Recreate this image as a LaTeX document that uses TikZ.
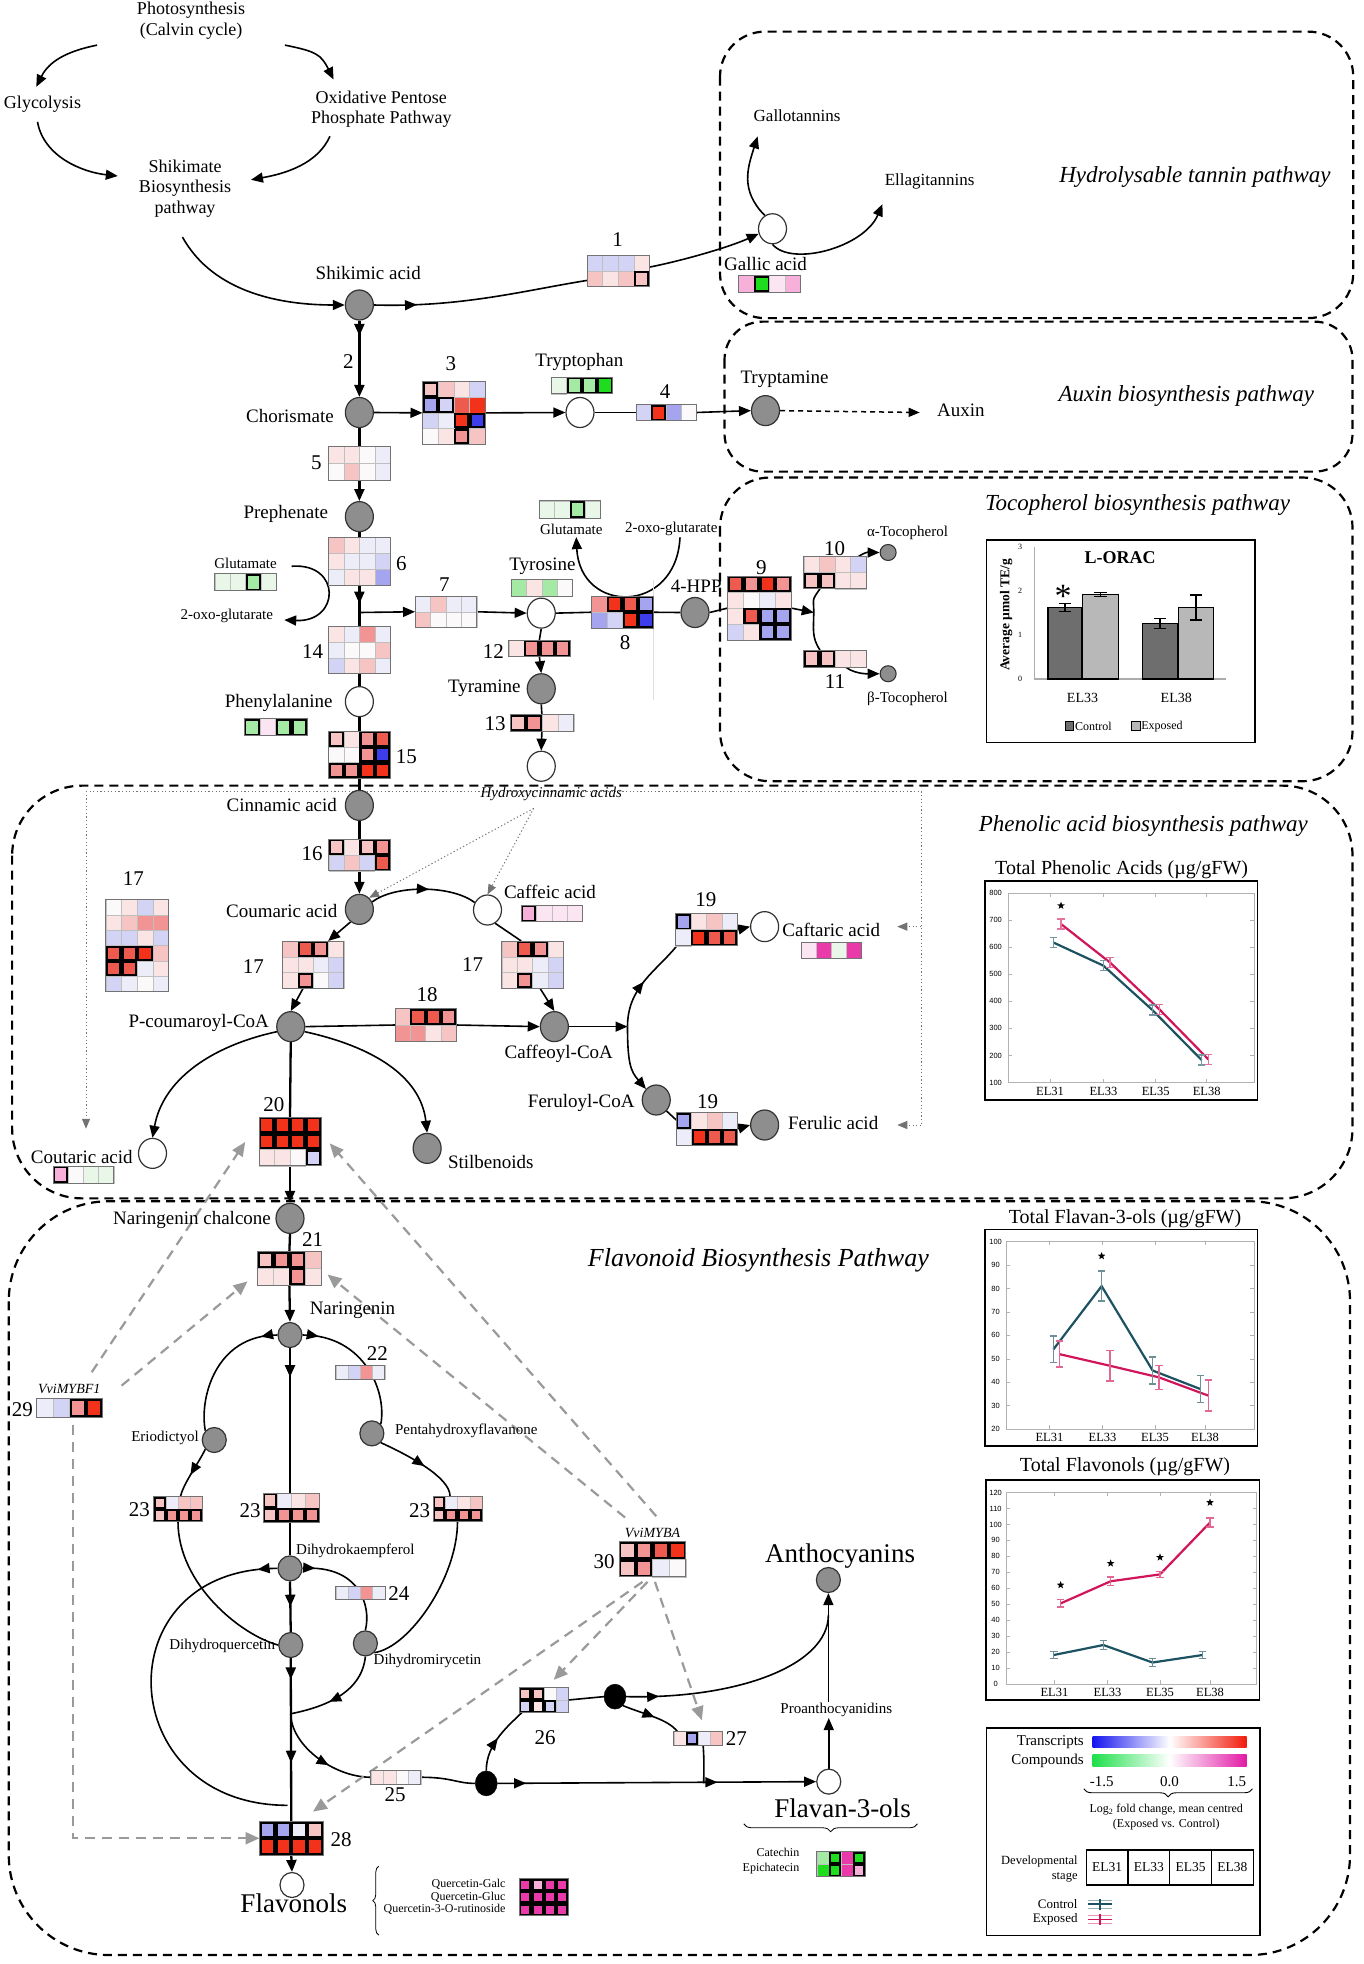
\documentclass[tikz,border=0pt]{standalone}
\usepackage{fontspec}
\setmainfont{Liberation Serif}
\newfontfamily\chsans{Liberation Sans}
\usetikzlibrary{shapes.geometric,arrows.meta,decorations.markings,decorations.pathreplacing,calc}
\pgfdeclarelayer{bg}
\pgfsetlayers{bg,main}
\definecolor{r1}{HTML}{FBE4E4}\definecolor{r2}{HTML}{F7C4C4}\definecolor{r3}{HTML}{F29494}
\definecolor{r4}{HTML}{EE5B4E}\definecolor{r5}{HTML}{F2321A}
\definecolor{b1}{HTML}{EDEDF9}\definecolor{b2}{HTML}{D3D3F5}\definecolor{b3}{HTML}{A5A5EF}\definecolor{b4}{HTML}{3D3DEB}
\definecolor{g1}{HTML}{E9F7E9}\definecolor{g2}{HTML}{A4EAA4}\definecolor{g3}{HTML}{1FDC1F}
\definecolor{m1}{HTML}{FCE5F2}\definecolor{m2}{HTML}{F6B0DA}\definecolor{m3}{HTML}{EA3AAA}
\definecolor{w}{HTML}{FBF9FA}
\definecolor{metgray}{HTML}{8E8E8E}
\definecolor{ctl}{HTML}{1D5262}\definecolor{expc}{HTML}{D1155A}
\definecolor{tblue}{HTML}{1414F0}\definecolor{tred}{HTML}{F21A0A}
\definecolor{cgreen}{HTML}{1EE04A}\definecolor{cmag}{HTML}{E21AA6}
\definecolor{regc}{HTML}{9A9A9A}
\definecolor{barC}{HTML}{6E6E6E}\definecolor{barE}{HTML}{B8B8B8}
\newcommand\thk[2]{\colorlet{#1}{#2}\expandafter\def\csname thk@#1\endcsname{}}
\thk{R1}{r1}\thk{R2}{r2}\thk{R3}{r3}\thk{R4}{r4}\thk{R5}{r5}
\thk{B1}{b1}\thk{B2}{b2}\thk{B3}{b3}\thk{B4}{b4}
\thk{G1}{g1}\thk{G2}{g2}\thk{G3}{g3}\thk{M1}{m1}\thk{M2}{m2}\thk{M3}{m3}
\newcommand\hmap[8]{%
  \node[inner sep=0pt, outer sep=0pt, minimum width={#4*#6*1.25pt}, minimum height={#5*#7*1.25pt}] (#1) at (#2,#3) {};
  \foreach \cc [count=\ii from 0] in {#8}{%
    \pgfmathtruncatemacro\ci{mod(\ii,#4)}%
    \pgfmathtruncatemacro\ri{floor(\ii/#4)}%
    \ifcsname thk@\cc\endcsname
      \fill[black] ($(#1.north west)+(\ci*#6,\ri*#7)$) rectangle +(#6,#7);
      \fill[\cc] ($(#1.north west)+(\ci*#6+1.7,\ri*#7+1.7)$) rectangle +(#6-3.4,#7-3.4);
    \else
      \fill[\cc] ($(#1.north west)+(\ci*#6,\ri*#7)$) rectangle +(#6,#7);
      \draw[black!25, line width=0.4pt] ($(#1.north west)+(\ci*#6,\ri*#7)$) rectangle +(#6,#7);
    \fi
  }%
  \draw[black!55, line width=0.9pt] (#1.north west) rectangle (#1.south east);
}
\newcommand\ebar[5]{\draw[#4, line width=1.3pt] (#1,#2-#3) -- (#1,#2+#3) (#1-#5,#2-#3) -- (#1+#5,#2-#3) (#1-#5,#2+#3) -- (#1+#5,#2+#3);}
\tikzset{
  gm/.style={ellipse, draw=black!80, line width=1.2pt, fill=metgray, minimum width=28pt, minimum height=30pt, inner sep=0pt},
  wm/.style={gm, fill=white},
  gs/.style={gm, minimum width=24pt, minimum height=25pt},
  ws/.style={gs, fill=white},
  tm/.style={circle, draw=black!80, line width=1.1pt, fill=metgray, minimum size=16pt, inner sep=0pt},
  bm/.style={ellipse, fill=black, draw=black, minimum width=22pt, minimum height=25pt, inner sep=0pt},
  lab/.style={font=\fontsize{19}{22}\selectfont, inner sep=1pt},
  tlab/.style={font=\fontsize{18}{20.5}\selectfont, align=center, inner sep=1pt},
  slab/.style={font=\fontsize{15}{17}\selectfont, inner sep=1pt},
  numl/.style={font=\fontsize{21}{23}\selectfont, inner sep=0.5pt},
  ttl/.style={font=\fontsize{23}{26}\itshape\selectfont, inner sep=1pt},
  bigl/.style={font=\fontsize{27}{30}\selectfont, inner sep=1pt},
  xsm/.style={font=\fontsize{12}{13}\selectfont, inner sep=0.5pt},
  tkl/.style={font=\chsans\fontsize{7.5}{8}\selectfont, inner sep=0.5pt},
  elab/.style={font=\fontsize{12.5}{13}\selectfont, inner sep=0.5pt},
  ln/.style={line width=1.6pt},
  vln/.style={line width=2.3pt},
  ar/.style={-{Triangle[length=12pt,width=10pt]}},
  dashar/.style={line width=1.5pt, dash pattern=on 5pt off 4pt, -{Triangle[length=11pt,width=9pt]}},
  dotln/.style={black!55, line width=1pt, dash pattern=on 1.2pt off 2.4pt},
  dotar/.style={dotln, -{Triangle[length=10pt,width=8pt]}},
  reg/.style={regc, line width=2.2pt, dash pattern=on 10pt off 7pt, -{Triangle[length=14pt,width=12pt]}},
  sect/.style={line width=2.2pt, dash pattern=on 9pt off 6pt, rounded corners=#1},
  midarr/.style={postaction={decorate, decoration={markings, mark=at position #1 with {\arrow{Triangle[length=12pt,width=10pt]}}}}},
  midarrs/.style 2 args={postaction={decorate, decoration={markings, mark=at position #1 with {\arrow{Triangle[length=12pt,width=10pt]}}, mark=at position #2 with {\arrow{Triangle[length=12pt,width=10pt]}}}}},
  cstar/.style={star, star points=5, star point ratio=2.4, fill=black, inner sep=0pt, minimum size=8pt}
}
\begin{document}
\begin{tikzpicture}[x=1.25pt,y=-1.25pt]
\useasboundingbox (0,0) rectangle (1090.4,1571.2);
\begin{pgfonlayer}{bg}
\fill[white] (0,0) rectangle (1090.4,1571.2);
\end{pgfonlayer}
% ---------------- text labels ----------------
\node[tlab] (photo) at (152.8,16.4) {Photosynthesis\\(Calvin cycle)};
\node[tlab] (glyc) at (34,83) {Glycolysis};
\node[tlab] (oppp) at (305,87.3) {Oxidative Pentose\\Phosphate Pathway};
\node[tlab] (shikp) at (148,150.8) {Shikimate\\Biosynthesis\\pathway};
\node[lab] (shikl) at (294.6,218.7) {Shikimic acid};
\node[font=\fontsize{17}{19}\selectfont] (gallo) at (637.7,92.5) {Gallotannins};
\node[font=\fontsize{17}{19}\selectfont] (ellag) at (743.7,145.3) {Ellagitannins};
\node[lab] (gallicl) at (612.4,211.5) {Gallic acid};
\node[ttl] (hydt) at (956,141.9) {Hydrolysable tannin pathway};
\node[lab] (chorl) at (232,333) {Chorismate};
\node[lab] (trpl) at (463.5,289.3) {Tryptophan};
\node[lab] (trpml) at (627.6,303.2) {Tryptamine};
\node[lab] (auxl) at (768.7,328) {Auxin};
\node[ttl] (auxt) at (949,317) {Auxin biosynthesis pathway};
\node[lab] (prephl) at (228.6,411.5) {Prephenate};
\node[slab] (glu1) at (196.4,451) {Glutamate};
\node[slab] (oxo1) at (181.4,493) {2-oxo-glutarate};
\node[lab] (tyrl) at (434,453) {Tyrosine};
\node[slab] (glu2) at (457,423.5) {Glutamate};
\node[slab] (oxo2) at (537,423.5) {2-oxo-glutarate};
\node[lab] (hppl) at (557,469) {4-HPP};
\node[slab] (atocl) at (726,426.7) {α-Tocopherol};
\node[slab] (btocl) at (726,558.7) {β-Tocopherol};
\node[ttl] (toct) at (910,404) {Tocopherol biosynthesis pathway};
\node[lab] (tyraml) at (387.5,551) {Tyramine};
\node[lab] (phel) at (223,562.7) {Phenylalanine};
\node[ttl] (phent) at (914.7,660.8) {Phenolic acid biosynthesis pathway};
\node[lab] (cinnl) at (225.4,644.3) {Cinnamic acid};
\node[lab] (couml) at (225.4,728.8) {Coumaric acid};
\node[font=\fontsize{15}{17}\itshape\selectfont, inner sep=1pt] (hca) at (441,635.2) {Hydroxycinnamic acids};
\node[lab] (caffl) at (440,713.3) {Caffeic acid};
\node[lab] (pcoal) at (159,818) {P-coumaroyl-CoA};
\node[lab] (cfcoal) at (447,842.7) {Caffeoyl-CoA};
\node[lab] (caftl) at (665,744) {Caftaric acid};
\node[lab] (frcoal) at (465,882) {Feruloyl-CoA};
\node[lab] (ferull) at (666.5,898.7) {Ferulic acid};
\node[lab] (coutl) at (65.4,925.3) {Coutaric acid};
\node[lab] (stilbl) at (392.6,929.3) {Stilbenoids};
\node[font=\fontsize{26}{29}\itshape\selectfont] (flavt) at (606.7,1008.5) {Flavonoid Biosynthesis Pathway};
\node[lab] (nchall) at (153.6,976) {Naringenin chalcone};
\node[lab] (narl) at (282,1048) {Naringenin};
\node[slab] (eriol) at (132,1150.7) {Eriodictyol};
\node[slab] (pental) at (373,1144.5) {Pentahydroxyflavanone};
\node[slab, anchor=west] (dhkl) at (236,1240.5) {Dihydrokaempferol};
\node[slab, anchor=east] (dhql) at (221,1316.8) {Dihydroquercetin};
\node[slab, anchor=west] (dhml) at (298,1328.5) {Dihydromirycetin};
\node[font=\fontsize{14}{16}\itshape\selectfont, inner sep=1pt] (mybf1) at (55.4,1111.5) {VviMYBF1};
\node[font=\fontsize{14}{16}\itshape\selectfont, inner sep=1pt] (mybal) at (522,1226.7) {VviMYBA};
\node[bigl] (anthol) at (672,1244.8) {Anthocyanins};
\node[slab] (proal) at (669,1368) {Proanthocyanidins};
\node[bigl] (flav3l) at (674,1446.7) {Flavan-3-ols};
\node[xsm, anchor=east] (cat1) at (640,1481.9) {Catechin};
\node[xsm, anchor=east] (cat2) at (640,1494.7) {Epichatecin};
\node[bigl] (flavol) at (235,1522.7) {Flavonols};
\node[xsm, anchor=east] (q1) at (405,1507.7) {Quercetin-Galc};
\node[xsm, anchor=east] (q2) at (405,1517.6) {Quercetin-Gluc};
\node[xsm, anchor=east] (q3) at (405,1527.5) {Quercetin-3-O-rutinoside};
% numbers
\foreach \nm/\xx/\yy/\tx in {n1/494/191.5/1, n2/278.6/289/2, n3/360.7/290.7/3, n4/532/313/4, n5/253/370.5/5,
  n6/321/451/6, n7/355.4/468/7, n8/500/514/8, n9/609/454/9, n10/667.7/438.7/10, n11/668/545/11,
  n12/394.6/521/12, n13/396/579/13, n14/250/521.3/14, n15/325/605/15, n16/249.6/683/16,
  n17a/202.6/773.3/17, n17b/378/771.5/17, n17c/106.6/703.2/17, n18/341.7/796/18, n19a/564.7/720/19,
  n19b/566/881/19, n20/219/884/20, n21/250/991.5/21, n22/301.8/1083.2/22, n23a/111.4/1208/23,
  n23b/200/1208.5/23, n23c/335.7/1208.5/23, n24/319/1275/24, n25/316/1436/25, n26/436/1389.9/26,
  n27/589/1390.7/27, n28/272.9/1472/28, n29/17.9/1128/29, n30/483.2/1249.3/30}
  {\node[numl] (\nm) at (\xx,\yy) {\tx};}
% ---------------- metabolite nodes ----------------
\node[gm] (shik) at (287.5,244) {};
\node[gm] (chor) at (287.5,330) {};
\node[wm] (trp) at (464,330) {};
\node[gm] (trpm) at (612.4,328.5) {};
\node[gm] (preph) at (287.5,413.3) {};
\node[wm] (tyr) at (433,490.5) {};
\node[gm] (hpp) at (556,490) {};
\node[gm] (tyram) at (433,551) {};
\node[wm] (tyrx) at (433,613) {};
\node[wm] (phe) at (287.5,561.3) {};
\node[wm] (gallic) at (618,183) {};
\node[tm] (atoc) at (710.5,442) {};
\node[tm] (btoc) at (710.5,539) {};
\node[gm] (cinn) at (287.5,644.3) {};
\node[gm] (coum) at (287.5,727.5) {};
\node[wm] (caff) at (390,728) {};
\node[gm] (pcoa) at (232.6,821.3) {};
\node[gm] (cfcoa) at (443.5,821.3) {};
\node[gm] (frcoa) at (525,880) {};
\node[wm] (caft) at (611.7,741.3) {};
\node[gm] (ferul) at (611.7,900) {};
\node[wm] (cout) at (122,922.7) {};
\node[gm] (stilb) at (341.7,918.7) {};
\node[gm] (nchal) at (232,974.7) {};
\node[gs] (nar) at (232,1068) {};
\node[gs] (erio) at (171.4,1152) {};
\node[gs] (penta) at (297.5,1146.7) {};
\node[gs] (dhk) at (232,1254.7) {};
\node[gs] (dhq) at (232.6,1316) {};
\node[gs] (dhm) at (292.3,1314.7) {};
\node[bm] (blk1) at (389,1426.7) {};
\node[bm] (blk2) at (492,1357.3) {};
\node[gs] (antho) at (662.7,1264) {};
\node[ws] (flav3) at (663,1425.3) {};
\node[ws] (flavo) at (233.6,1508) {};
% ---------------- heat maps ----------------
\hmap{box1}{494.6}{216.7}{4}{2}{12.5}{12.65}{b2,b2,b2,r1,r2,r1,r2,R2}
\hmap{galst}{615.7}{227.2}{4}{1}{12.4}{13.4}{m2,G3,m1,m2}
\hmap{box3}{363}{330.3}{4}{4}{12.5}{12.5}{R2,r2,r1,b2,B3,B2,r4,r5,b2,b1,R5,B4,w,r1,R3,r2}
\hmap{trpst}{465.5}{308.5}{4}{1}{12.3}{13.3}{g1,G2,G2,G3}
\hmap{box4}{533}{330}{4}{1}{12}{13}{b2,R5,b3,w}
\hmap{box5}{287.5}{370.5}{4}{2}{12.4}{13.5}{r1,r1,w,b1,w,r2,w,b1}
\hmap{box6}{287.5}{449}{4}{3}{12.4}{12.7}{r2,r1,b1,b1,r1,b1,b1,b2,b1,r1,r1,b3}
\hmap{glu1st}{196.5}{465.6}{4}{1}{12.3}{13.8}{g1,g1,G2,g1}
\hmap{box7}{356.7}{489.4}{4}{2}{12.35}{12.55}{b1,r2,b1,b1,r2,w,w,w}
\hmap{tyrst}{433.5}{470.4}{4}{1}{12.3}{13.8}{g2,r1,g2,w}
\hmap{box8}{498}{489.8}{4}{2}{12.5}{12.9}{r3,R5,R4,B3,b3,b2,R5,B4}
\hmap{glu2st}{456}{407.7}{4}{1}{12.25}{13.9}{g1,g1,G2,g1}
\hmap{box12}{431.5}{518.7}{4}{1}{12.25}{13.3}{r1,R3,R3,R3}
\hmap{box13}{433.5}{578.3}{4}{1}{12.75}{13.5}{R2,R3,r1,b1}
\hmap{box14}{287.5}{520}{4}{3}{12.4}{12.6}{r1,b1,r3,b1,b1,w,w,r2,b2,r1,r2,b1}
\hmap{phest}{220.5}{581.6}{4}{1}{12.6}{13.8}{G2,m1,G2,G2}
\hmap{box15}{287.5}{603.7}{4}{3}{12.4}{12.6}{R2,r1,R3,R4,w,w,R3,B4,R3,R3,R5,R5}
\hmap{box9}{607.5}{486.5}{4}{4}{12.75}{12.75}{R4,R3,R5,R3,r1,w,b1,r1,r1,R4,B3,B3,b2,r1,B3,B3}
\hmap{box10}{668}{458}{4}{2}{12.5}{13}{r1,r2,r1,b2,R2,R2,r1,r1}
\hmap{box11}{668}{527}{4}{1}{12.5}{14}{R2,R2,r1,r1}
\hmap{box16}{287.5}{684}{4}{2}{12.25}{12.65}{R2,r1,R2,R3,b2,r2,b2,R4}
\hmap{box17L}{250.5}{771.7}{4}{3}{12.25}{12.6}{r2,R4,R3,r1,r1,r1,b1,b2,r1,R3,w,b2}
\hmap{box17R}{426}{771.7}{4}{3}{12.25}{12.6}{r2,R4,R3,r1,r1,r1,b1,b2,r1,R3,b1,b2}
\hmap{caffst}{441.4}{730.7}{4}{1}{12.3}{13.3}{M2,m1,m1,m1}
\hmap{box17S}{109.7}{756.4}{4}{6}{12.5}{12.3}{w,r1,b2,r1,r1,r2,r3,r3,b2,b2,r1,b2,R4,R4,R5,r2,R4,R4,b1,r1,b2,b1,w,b1}
\hmap{box18}{340.5}{820}{4}{2}{12.25}{13.3}{r2,R4,R4,R3,r3,r3,r1,r2}
\hmap{box19U}{565.2}{743.7}{4}{2}{12.4}{13}{B3,r1,r2,b1,b1,R5,R4,R4}
\hmap{box19L}{565.5}{903}{4}{2}{12.25}{13}{B3,r1,r2,b1,b1,R5,R4,R4}
\hmap{caftst}{665}{760.4}{4}{1}{12}{12.7}{m1,m3,g1,m3}
\hmap{coutst}{66.8}{939.9}{4}{1}{12.1}{13.7}{M2,w,g1,g1}
\hmap{box20}{232}{913.2}{4}{3}{12.4}{12.9}{R5,R5,R5,R5,R5,R5,R5,R5,r1,r1,w,B2}
\hmap{box21}{231.5}{1014.6}{4}{2}{12.75}{13.5}{R2,R3,R3,r2,r1,r1,R3,r1}
\hmap{box22}{288.2}{1097.8}{4}{1}{9.8}{10.7}{b1,b2,r3,b1}
\hmap{box23L}{142.4}{1207.3}{4}{2}{9.7}{10}{R2,b1,r2,r2,R2,R3,R3,R3}
\hmap{box23C}{233}{1206.3}{4}{2}{11.2}{11.7}{R2,b1,r1,r2,R2,R3,R3,R3}
\hmap{box23R}{366}{1207}{4}{2}{9.8}{10.25}{R2,b1,r1,r2,R2,R3,R3,R3}
\hmap{box24}{288.3}{1274.1}{4}{1}{9.85}{10.7}{b1,b2,r3,b1}
\hmap{box29}{55.6}{1126.3}{4}{1}{13.2}{15.2}{b1,b2,R3,R5}
\hmap{box30}{522}{1247.5}{4}{2}{13.3}{14}{R2,R3,R4,R5,R2,R3,b1,w}
\hmap{box25}{316.7}{1421.8}{4}{1}{10}{10.7}{r1,r1,w,b1}
\hmap{box26}{435}{1360}{4}{2}{9.8}{10.1}{R2,R2,w,b2,B2,R1,B2,b2}
\hmap{box27}{558.5}{1390.6}{4}{1}{9.75}{10.7}{r1,B3,b1,r2}
\hmap{box28}{233}{1470.6}{4}{2}{12.7}{13.35}{B3,B3,B1,R2,R5,R5,R5,R5}
\hmap{catst}{672.8}{1491.3}{4}{2}{9.7}{10}{g2,G3,m3,G3,g3,G3,m3,M2}
\hmap{querst}{435}{1517.7}{4}{3}{9.8}{10}{M3,M2,M3,M3,M3,M3,M3,M3,M3,M3,M3,M3}
% ---------------- connectors ----------------
\begin{pgfonlayer}{bg}
\draw[sect=45pt] (576,25.3) rectangle (1082.6,254.5);
\draw[sect=38pt] (579.6,257.3) rectangle (1082,377.3);
\draw[sect=50pt] (576,382) rectangle (1082,625);
\draw[sect=70pt] (9.7,628.5) rectangle (1082,958.7);
\draw[sect=100pt] (7,961) rectangle (1080,1564);
% top
\draw[ln,ar] ($(photo.south west)+(-31,4)$) .. controls +(-25,5) and +(10,-20) .. ($(glyc.north)+(-5,-6)$);
\draw[ln,ar] ($(photo.south east)+(31,4)$) .. controls +(25,5) and +(-10,-20) .. ($(oppp.north west)+(19,-8)$);
\draw[ln,ar] ($(glyc.south)+(-4,7)$) .. controls +(5,28) and +(-28,-3) .. ($(shikp.west)+(-16,-10)$);
\draw[ln,ar] ($(oppp.south)+(-41,6)$) .. controls +(-10,22) and +(28,-5) .. ($(shikp.east)+(15,-7)$);
\draw[ln,ar] ($(shikp.south)+(-2,15)$) .. controls +(25,45) and +(-50,0) .. (shik.west);
\draw[ln,midarr=0.2] (shik.east) .. controls +(70,2) and +(-50,8) .. ($(box1.south west)+(0,-5)$);
\draw[ln,ar] ($(box1.east)+(0,-3)$) .. controls +(30,-6) and +(-22,10) .. (gallic.200);
\draw[ln,ar] (gallic.120) .. controls +(-20,-20) and +(-8,25) .. ($(gallo.south west)+(6,9)$);
\draw[ln,ar] (gallic.south) .. controls +(15,18) and +(-15,35) .. ($(ellag.south west)+(1,9)$);
\draw[vln,midarr=0.2,ar] (shik.south) -- (chor.north);
\draw[ln,ar] (chor.east) -- (box3.west);
\draw[ln,ar] (box3.east) -- (trp.west);
\draw[ln] (trp.east) -- (box4.west);
\draw[ln,ar] (box4.east) -- (trpm.west);
\draw[dashar] (trpm.east) -- ($(auxl.west)+(-13,2)$);
\draw[vln] (chor.south) -- (box5.north);
\draw[vln,ar] (box5.south) -- (preph.north);
\draw[vln] (preph.south) -- (box6.north);
\coordinate (j1) at (287.5,490);
\draw[vln,midarr=0.45] (box6.south) -- (box14.north);
\draw[ln,ar] (j1) -- (box7.west);
\draw[ln,ar] (box7.east) -- (tyr.west);
\draw[ln] (tyr.east) -- (box8.west);
\draw[ln] (box8.east) -- (hpp.west);
\draw[ln] (hpp.east) -- (box9.west);
\coordinate (sp1) at (651,490);
\draw[ln,ar] (box9.east) -- (sp1);
\draw[ln] ($(box10.south west)+(13,0)$) .. controls +(-7,10) and +(0,-12) .. (sp1) .. controls +(0,12) and +(-7,-10) .. ($(box11.north west)+(13,0)$);
\draw[ln,ar] ($(box10.north east)+(-6,0)$) .. controls +(8,-5) and +(-6,0) .. (atoc.west);
\draw[ln,ar] ($(box11.south east)+(-16,0)$) .. controls +(8,6) and +(-6,0) .. (btoc.west);
\draw[ln,ar] ($(oxo2.south)+(7,0)$) .. controls +(-3,62) and +(3,62) .. ($(glu2.south)+(4,1)$);
\draw[ln,ar] ($(glu1.east)+(11,2)$) .. controls +(40,-3) and +(45,2) .. ($(oxo1.east)+(8,3)$);
\draw[vln] (box14.south) -- (phe.north);
\draw[vln] (phe.south) -- (box15.north);
\draw[vln] (box15.south) -- (cinn.north);
\draw[ln] (tyr.south) -- (box12.north);
\draw[ln,ar] (box12.south) -- (tyram.north);
\draw[ln] (tyram.south) -- (box13.north);
\draw[ln,ar] (box13.south) -- (tyrx.north);
\draw[gray!25, line width=0.8pt] (523,464) -- (523,560);
% phenolic
\draw[vln] (cinn.south) -- (box16.north);
\draw[vln,ar] (box16.south) -- (coum.north);
\draw[dotar] ($(hca.south)+(-14,5)$) -- (coum.50);
\draw[dotar] ($(hca.south)+(-14,5)$) -- (caff.north);
\draw[ln,midarr=0.55] (coum.30) .. controls +(18,-14) and +(-18,-14) .. (caff.150);
\draw[ln,ar] (coum.235) -- ($(box17L.north)+(12,0)$);
\draw[ln,ar] ($(box17L.south)+(-8,0)$) -- (pcoa.north);
\draw[ln] (caff.300) -- ($(box17R.north)+(-9,0)$);
\draw[ln,ar] ($(box17R.south)+(6,0)$) -- (cfcoa.north);
\draw[ln] (pcoa.east) -- (box18.west);
\draw[ln,ar] (box18.east) -- (cfcoa.west);
\coordinate (sp2) at (502,821.3);
\draw[ln,ar] (cfcoa.east) -- (sp2);
\draw[ln,midarr=0.5] (sp2) .. controls +(0,-32) and +(-16,20) .. ($(box19U.south west)+(1,0)$);
\draw[ln,ar] (sp2) .. controls +(0,30) and +(-12,-14) .. (frcoa.north west);
\draw[ln,ar] (box19U.east) -- (caft.west);
\draw[ln] (frcoa.south east) -- ($(box19L.north west)+(0,6)$);
\draw[ln,ar] (box19L.east) -- (ferul.west);
\draw[ln,ar] (pcoa.200) .. controls +(-55,12) and +(8,-45) .. (cout.north);
\draw[ln,ar] (pcoa.340) .. controls +(55,12) and +(-5,-45) .. (stilb.north);
\draw[vln] (pcoa.south) -- (box20.north);
\draw[vln,ar] (box20.south) -- (nchal.north);
\coordinate (dTL) at (68.8,633);
\coordinate (dTR) at (736.8,633);
\coordinate (dBL) at (68.8,903);
\coordinate (dBR) at (736.8,900);
\draw[dotln] (dTL) -- (dTR) -- (dBR);
\draw[dotar] (dTL) -- (dBL);
\draw[dotar] (dTR |- caft) -- ++(-19,0);
\draw[dotar] (dBR) -- ++(-19,0);
% flavonoid
\draw[vln] (nchal.south) -- (box21.north);
\draw[vln,ar] (box21.south) -- (nar.north);
\draw[ln,midarr=0.12] (nar.west) .. controls +(-50,0) and +(-5,-25) .. (erio.north west);
\draw[ln,midarr=0.12] (nar.east) .. controls +(50,0) and +(5,-25) .. (penta.north east);
\draw[vln,midarr=0.14] (nar.south) -- (dhk.north);
\draw[ln,midarr=0.55] (erio.south west) .. controls +(-6,12) and +(2,-10) .. ($(box23L.north)+(2,0)$);
\draw[ln] (box23L.south) .. controls +(0,50) and +(-30,-8) .. (dhq.west);
\draw[ln,midarr=0.55] (penta.south east) .. controls +(22,10) and +(0,-15) .. ($(box23R.north)+(-6,0)$);
\draw[ln] (box23R.south) .. controls +(0,45) and +(28,-4) .. (dhm.south east);
\draw[ln,midarr=0.12] (dhk.east) .. controls +(45,-3) and +(5,-20) .. (dhm.north);
\draw[ln,midarr=0.05] (dhk.west) .. controls +(-140,0) and +(-140,0) .. ($(box28.north)+(-3,-13)$);
\draw[vln,midarr=0.5] (dhk.south) -- (dhq.north);
\draw[vln,midarrs={0.13}{0.64}] (dhq.south) -- (box28.north);
\coordinate (jc) at (232.6,1371);
\draw[ln,midarr=0.6] (dhm.south) .. controls +(-3,30) and +(25,-5) .. (jc);
\draw[ln,midarr=0.6] (jc) .. controls +(0,25) and +(-30,0) .. (box25.west);
\draw[ln] (box25.east) .. controls +(25,0) and +(-15,0) .. (blk1.west);
\draw[ln,midarrs={0.09}{0.69},ar] (blk1.east) -- (flav3.west);
\draw[ln,midarr=0.5] (blk1.north) .. controls +(0,-22) and +(-10,10) .. ($(box26.south west)+(2,0)$);
\draw[ln] (box26.east) -- (blk2.west);
\coordinate (am) at (662.7,1292);
\draw[ln,midarr=0.14] (blk2.east) .. controls +(90,2) and +(0,40) .. (am);
\draw[ln,ar] (antho |- proal.north) -- (antho.south);
\draw[ln,ar] (flav3.north) -- (flav3 |- proal.south);
\draw[ln,midarr=0.55] (blk2.south east) .. controls +(20,8) and +(-8,-10) .. ($(box27.north west)+(3,0)$);
\coordinate (j27) at (563,1426.7);
\draw[ln] ($(box27.south)+(4,0)$) .. controls +(1,15) and +(0,-12) .. (j27);
\draw[vln,ar] (box28.south) -- (flavo.north);
% regulators
\draw[reg] ($(mybf1.north)+(18,-9)$) -- ($(box20.south west)+(-11,-19)$);
\draw[reg] ($(mybf1.east)+(16,-3)$) -- ($(box21.south west)+(-8,-3)$);
\draw[reg] ($(mybal.north)+(-22,-8)$) -- ($(box21.east)+(5,5)$);
\draw[reg] ($(mybal.north)+(3,-9)$) -- ($(box20.east)+(7,1.5)$);
\draw[reg] ($(box30.south)+(-4,4)$) -- ($(box26.north)+(8,-6)$);
\draw[reg] ($(box30.south)+(-8,4)$) -- ($(box28.north east)+(-8,-8)$);
\draw[reg] ($(box30.south)+(2,4)$) -- ($(box27.north)+(3,-9)$);
\draw[reg] ($(box29.south)+(3,6)$) |- (box28.west);
\end{pgfonlayer}
% braces
\draw[decorate, decoration={brace, amplitude=6pt}, line width=0.8pt] (303,1548) -- (303,1493);
\draw[decorate, decoration={brace, amplitude=8pt}, line width=0.8pt] (734,1459) -- (595,1459);
% ---------------- L-ORAC chart ----------------
\draw[line width=1.3pt] (789,432) rectangle (1004,594);
\node[font=\bfseries\fontsize{18}{20}\selectfont] (loT) at (896,446) {L-ORAC};
\draw[gray!65, line width=1.2pt] (827.6,437.3) -- (827.6,543.2) -- (980.5,543.2);
\foreach \v/\yy in {0/543.2,1/507.9,2/472.6,3/437.3} \node[font=\fontsize{8}{9}\selectfont] (lo\v) at (816,\yy) {\v};
\draw[fill=barC, line width=1.3pt] (838.5,543.2) rectangle (865.3,486);
\draw[fill=barE, line width=1.3pt] (866,543.2) rectangle (894.7,475.5);
\draw[fill=barC, line width=1.3pt] (914,543.2) rectangle (942,499);
\draw[fill=barE, line width=1.3pt] (942.7,543.2) rectangle (971,486);
\ebar{851.9}{486}{3}{black}{5}
\ebar{880.4}{475.5}{1.5}{black}{5}
\ebar{928}{499}{4}{black}{5}
\ebar{956.9}{486}{10}{black}{5}
\node[font=\fontsize{34}{34}\selectfont, inner sep=0pt] (loS) at (850.4,477) {*};
\node[rotate=90, font=\bfseries\fontsize{13.5}{15}\selectfont] (loY) at (805,492) {Average µmol TE/g};
\node[font=\fontsize{14}{16}\selectfont] (loX1) at (866,558.7) {EL33};
\node[font=\fontsize{14}{16}\selectfont] (loX2) at (941,558.7) {EL38};
\draw[fill=barC, line width=1pt] (852.5,577.5) rectangle +(6.5,6.5);
\node[anchor=west, font=\fontsize{12}{13}\selectfont, inner sep=0.5pt] (loL1) at (859.5,581) {Control};
\draw[fill=barE, line width=1pt] (905.5,577.5) rectangle +(6.5,6.5);
\node[anchor=west, font=\fontsize{12}{13}\selectfont, inner sep=0.5pt] (loL2) at (912.5,581) {Exposed};
% ---------------- Phenolic chart ----------------
\node[font=\fontsize{20}{22}\selectfont] (paT) at (897.3,696) {Total Phenolic Acids (µg/gFW)};
\draw[line width=1.5pt] (788,704.8) rectangle (1005.9,880);
\draw[gray!60, line width=0.8pt] (806.7,714.7) rectangle (1003.2,866);
\foreach \v in {100,200,...,800}{
  \pgfmathsetmacro\yy{866-(\v-100)*0.2164}
  \draw[gray!60] (806.7,\yy) -- (809.7,\yy) (1003.2,\yy) -- (1000.2,\yy);
  \node[tkl] (pa\v) at (796.5,\yy) {\v};
}
\foreach \xx/\lb in {840/EL31,882.7/EL33,924.5/EL35,965.3/EL38}{
  \draw[gray!60] (\xx,866) -- (\xx,863) (\xx,714.7) -- (\xx,717.7);
  \node[elab] (pax\lb) at (\xx,873.3) {\lb};
}
\draw[ctl, line width=2.2pt] (842.7,754) -- (882.7,772.5) -- (921.9,808) -- (961.3,848);
\draw[expc, line width=2.2pt] (848.8,739.2) -- (888,770) -- (927.5,807.5) -- (966.7,847.5);
\ebar{842.7}{754}{4}{ctl!60}{3}\ebar{882.7}{772.5}{4}{ctl!60}{3}\ebar{921.9}{808}{4}{ctl!60}{3}\ebar{961.3}{848}{4}{ctl!60}{3}
\ebar{848.8}{739.2}{4}{expc!60}{3}\ebar{888}{770}{4}{expc!60}{3}\ebar{927.5}{807.5}{4}{expc!60}{3}\ebar{966.7}{847.5}{4}{expc!60}{3}
\node[cstar] (paS) at (848.8,724.5) {};
% ---------------- Flavan-3-ols chart ----------------
\node[font=\fontsize{20}{22}\selectfont] (fvT) at (900,974.7) {Total Flavan-3-ols (µg/gFW)};
\draw[line width=1.5pt] (788,983.5) rectangle (1006,1156.8);
\draw[gray!60, line width=0.8pt] (805.3,993.3) rectangle (1003.2,1143.2);
\foreach \v in {20,30,...,100}{
  \pgfmathsetmacro\yy{1143.2-(\v-20)*1.874}
  \draw[gray!60] (805.3,\yy) -- (808.3,\yy) (1003.2,\yy) -- (1000.2,\yy);
  \node[tkl] (fv\v) at (796.5,\yy) {\v};
}
\foreach \xx/\lb in {839.5/EL31,882/EL33,924/EL35,964/EL38}{
  \draw[gray!60] (\xx,1143.2) -- (\xx,1140.2) (\xx,993.3) -- (\xx,996.3);
  \node[elab] (fvx\lb) at (\xx,1149.9) {\lb};
}
\draw[ctl, line width=2.2pt] (842.7,1079.5) -- (881.3,1028.9) -- (922.1,1096.4) -- (960.5,1111.3);
\draw[expc, line width=2.2pt] (847.5,1083.3) -- (888,1092.6) -- (927.2,1101.9) -- (966.7,1116.5);
\ebar{842.7}{1079.5}{10.7}{ctl!65}{3}\ebar{881.3}{1028.9}{12}{ctl!65}{3}\ebar{922.1}{1096.4}{10.7}{ctl!65}{3}\ebar{960.5}{1111.3}{10.7}{ctl!65}{3}
\ebar{847.5}{1083.3}{10.4}{expc!65}{3}\ebar{888}{1092.6}{12.3}{expc!65}{3}\ebar{927.2}{1101.9}{9.7}{expc!65}{3}\ebar{966.7}{1116.5}{12.4}{expc!65}{3}
\node[cstar] (fvS) at (881.3,1004.8) {};
% ---------------- Flavonols chart ----------------
\node[font=\fontsize{20}{22}\selectfont] (flT) at (900,1173.3) {Total Flavonols (µg/gFW)};
\draw[line width=1.5pt] (788.8,1184) rectangle (1007.5,1360);
\draw[gray!60, line width=0.8pt] (805.3,1194) rectangle (1005.3,1347.2);
\foreach \v in {0,10,...,120}{
  \pgfmathsetmacro\yy{1347.2-\v*1.2767}
  \draw[gray!60] (805.3,\yy) -- (808.3,\yy) (1005.3,\yy) -- (1002.3,\yy);
  \node[tkl] (fl\v) at (796.5,\yy) {\v};
}
\foreach \xx/\lb in {843.5/EL31,886/EL33,928/EL35,968/EL38}{
  \draw[gray!60] (\xx,1347.2) -- (\xx,1344.2) (\xx,1194) -- (\xx,1197);
  \node[elab] (flx\lb) at (\xx,1354) {\lb};
}
\draw[ctl, line width=2.2pt] (843,1324) -- (882.7,1316) -- (922,1330) -- (962,1324);
\draw[expc, line width=2.2pt] (848.5,1282.7) -- (888.5,1265) -- (928,1259.5) -- (968,1218);
\ebar{843}{1324}{3}{ctl!65}{3}\ebar{882.7}{1316}{3.5}{ctl!65}{3}\ebar{922}{1330}{3}{ctl!65}{3}\ebar{962}{1324}{3}{ctl!65}{3}
\ebar{848.5}{1282.7}{3}{expc!65}{3}\ebar{888.5}{1265}{3.5}{expc!65}{3}\ebar{928}{1259.5}{2.5}{expc!65}{3}\ebar{968}{1218}{3.5}{expc!65}{3}
\node[cstar] (flS1) at (848.5,1268) {};
\node[cstar] (flS2) at (888.5,1250.7) {};
\node[cstar] (flS3) at (928,1245.9) {};
\node[cstar] (flS4) at (968,1202) {};
% ---------------- Legend ----------------
\draw[line width=1.5pt] (789.3,1382.4) rectangle (1008,1548.5);
\node[anchor=east, font=\fontsize{15}{17}\selectfont, inner sep=1pt] (lgT) at (868,1393.3) {Transcripts};
\node[anchor=east, font=\fontsize{15}{17}\selectfont, inner sep=1pt] (lgC) at (868,1408.3) {Compounds};
\shade[left color=tblue, right color=tred, middle color=white] (874,1389) rectangle (997.3,1397.6);
\shade[left color=cgreen, right color=cmag, middle color=white] (874,1403.7) rectangle (997.3,1412.8);
\node[font=\fontsize{15}{17}\selectfont] (lg1) at (881.3,1425.6) {-1.5};
\node[font=\fontsize{15}{17}\selectfont] (lg2) at (935.5,1425.6) {0.0};
\node[font=\fontsize{15}{17}\selectfont] (lg3) at (989.3,1425.6) {1.5};
\draw[decorate, decoration={brace, amplitude=8pt}, line width=0.9pt] (1002,1431) -- (867,1431);
\node[font=\fontsize{12}{15}\selectfont, align=center] (lgLog) at (933,1453.5) {Log\textsubscript{2} fold change, mean centred\\(Exposed vs. Control)};
\node[anchor=east, align=right, font=\fontsize{12.5}{15}\selectfont, inner sep=1pt] (lgDev) at (863,1495) {Developmental\\stage};
\foreach \k/\lb in {0/EL31,1/EL33,2/EL35,3/EL38}{
  \draw[line width=1.4pt] (869+\k*33.4,1480) rectangle (869+\k*33.4+33.4,1508);
  \node[font=\fontsize{13.5}{15}\selectfont] (lgE\lb) at (869+\k*33.4+16.7,1494) {\lb};
}
\node[anchor=east, font=\fontsize{13}{15}\selectfont, inner sep=1pt] (lgCt) at (863,1523.5) {Control};
\node[anchor=east, font=\fontsize{13}{15}\selectfont, inner sep=1pt] (lgEx) at (863,1535.5) {Exposed};
\draw[ctl!45, line width=1pt] (870.7,1520) -- (889.3,1520) (870.7,1527) -- (889.3,1527);
\draw[ctl, line width=1.8pt] (870.7,1523.5) -- (889.3,1523.5) (880,1519) -- (880,1528);
\draw[expc!45, line width=1pt] (870.7,1532) -- (889.3,1532) (870.7,1539) -- (889.3,1539);
\draw[expc, line width=1.8pt] (870.7,1535.5) -- (889.3,1535.5) (880,1531) -- (880,1540);
\end{tikzpicture}
\end{document}
